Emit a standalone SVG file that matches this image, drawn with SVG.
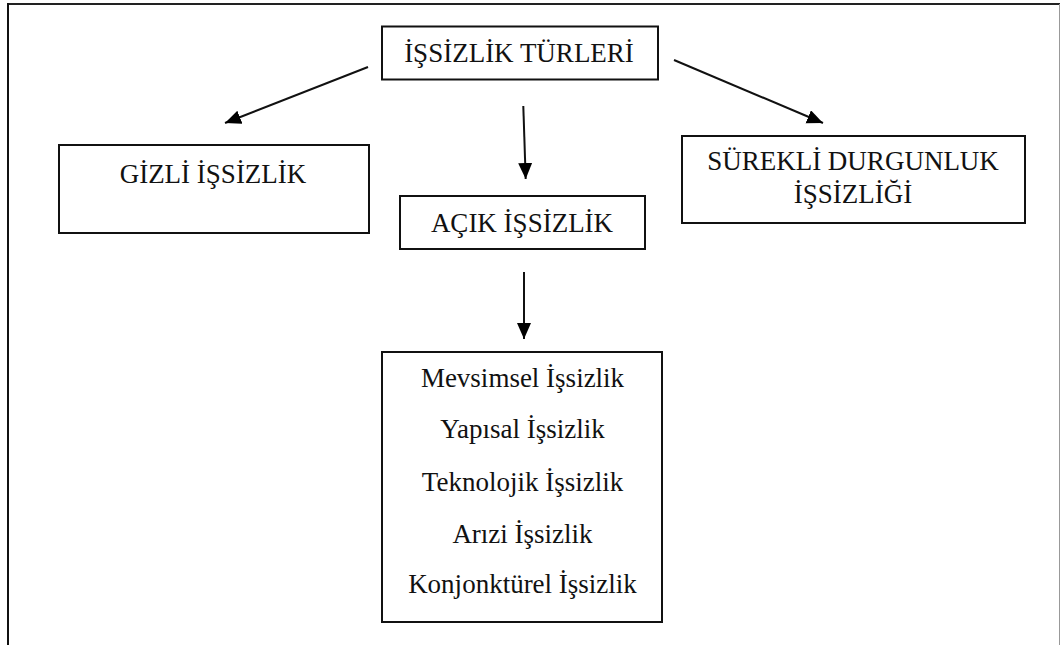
<svg xmlns="http://www.w3.org/2000/svg" width="1060" height="645" viewBox="0 0 1060 645">
<defs>
<style>
.box{fill:#fff;stroke:#111;stroke-width:2}
.t{font-family:"Liberation Serif","Times New Roman",serif;font-size:27px;fill:#111;text-anchor:middle}
.c{stroke:#111;stroke-width:2;fill:none;marker-end:url(#ah)}
</style>
<marker id="ah" markerUnits="userSpaceOnUse" markerWidth="17" markerHeight="15" refX="16" refY="7" orient="auto">
<path d="M0,0 L16,7 L0,14 z" fill="#000"/>
</marker>
</defs>
<rect width="1060" height="645" fill="#fff"/>
<g id="frame">
<line x1="7" y1="4" x2="1060" y2="4" stroke="#222" stroke-width="2"/>
<line x1="8" y1="3" x2="8" y2="645" stroke="#111" stroke-width="2"/>
<line x1="1059.5" y1="4" x2="1059.5" y2="645" stroke="#999" stroke-width="1"/>
</g>
<g id="connectors">
<line class="c" x1="368" y1="67" x2="225" y2="123"/>
<line class="c" x1="523.3" y1="106" x2="525.7" y2="179"/>
<line class="c" x1="674" y1="60" x2="823" y2="123"/>
<line class="c" x1="524" y1="272" x2="524" y2="339"/>
</g>
<g id="turleri">
<rect class="box" x="382" y="26.5" width="276" height="53"/>
<text class="t" x="519" y="62">İŞSİZLİK TÜRLERİ</text>
</g>
<g id="gizli">
<rect class="box" x="59" y="145" width="310" height="88"/>
<text class="t" x="213" y="183">GİZLİ İŞSİZLİK</text>
</g>
<g id="acik">
<rect class="box" x="400" y="196" width="245" height="53"/>
<text class="t" x="522" y="232">AÇIK İŞSİZLİK</text>
</g>
<g id="surekli">
<rect class="box" x="682" y="136" width="343" height="87"/>
<text class="t" x="853" y="170">SÜREKLİ DURGUNLUK</text>
<text class="t" x="853" y="203">İŞSİZLİĞİ</text>
</g>
<g id="acik-turleri">
<rect class="box" x="382" y="352" width="280" height="270"/>
<text class="t" x="522.5" y="387">Mevsimsel İşsizlik</text>
<text class="t" x="522.5" y="438">Yapısal İşsizlik</text>
<text class="t" x="522.5" y="491">Teknolojik İşsizlik</text>
<text class="t" x="522.5" y="543">Arızi İşsizlik</text>
<text class="t" x="522.5" y="593">Konjonktürel İşsizlik</text>
</g>
</svg>
